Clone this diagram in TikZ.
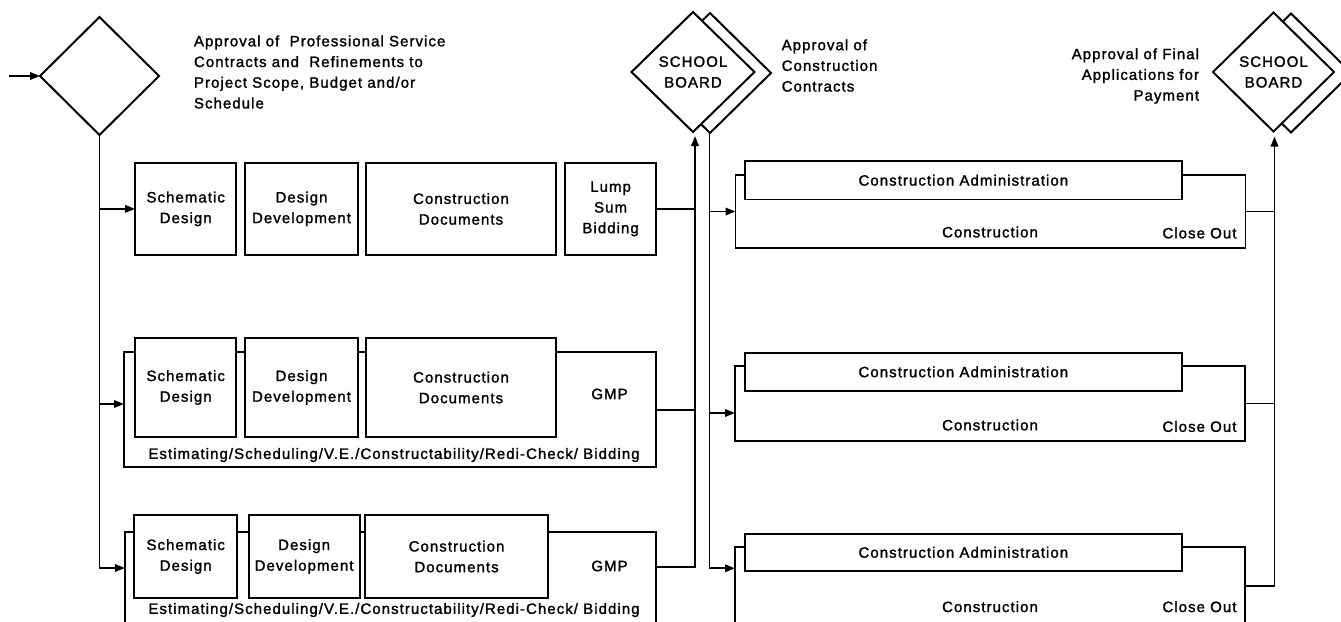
\documentclass[tikz,border=0pt]{standalone}
\usepackage{fontspec}
\setmainfont{Liberation Sans}[LetterSpace=7,FakeBold=1.5]
\usetikzlibrary{shapes.geometric,arrows.meta}

\begin{document}
\begin{tikzpicture}[x=1pt,y=-1pt,
  every node/.style={font=\fontsize{15}{20.7}\selectfont, inner sep=0pt, outer sep=0pt},
  line/.style={line width=1.8pt},
  arr/.style={line width=1.8pt, -{Triangle[length=10pt,width=7.5pt]}},
  box/.style={draw, line width=1.8pt, fill=white, align=center},
  dia/.style={draw, diamond, line width=2pt, fill=white, align=center},
  lbl/.style={align=center}
]
\useasboundingbox (0,0) rectangle (1341,621);
\fill[white] (0,0) rectangle (1341,621);
\clip (0,0) rectangle (1341,621);

% ---------- decision diamonds ----------
\node[dia, minimum width=119pt, minimum height=118pt] (D0) at (99.5,76) {};
\node[dia, minimum width=122pt, minimum height=120pt] (SB1s) at (710,73) {};
\node[dia, minimum width=123pt, minimum height=120pt] (SB1) at (693,72) {SCHOOL\\BOARD};
\node[dia, minimum width=121pt, minimum height=119pt] (SB2s) at (1291,73) {};
\node[dia, minimum width=121pt, minimum height=119pt] (SB2) at (1273.5,72) {SCHOOL\\BOARD};

% ---------- captions ----------
\node[anchor=west, align=left] (t0) at (194,72)
  {Approval of~ Professional Service\\Contracts and~ Refinements to\\Project Scope, Budget and/or\\Schedule};
\node[anchor=west, align=left] (t1) at (781.7,65.5)
  {Approval of\\Construction\\Contracts};
\node[anchor=east, align=right] (t2) at (1199,76)
  {Approval of Final\\Applications for\\Payment};

% ---------- row 1: lump sum ----------
\node[box, minimum width=101.3pt, minimum height=92.3pt] (r1sd) at (185.7,208.9) {Schematic\\Design};
\node[box, minimum width=112.3pt, minimum height=92.3pt] (r1dd) at (301.5,208.9) {Design\\Development};
\node[box, minimum width=190.6pt, minimum height=92.3pt] (r1cd) at (461,208.9) {Construction\\Documents};
\node[box, minimum width=91.3pt, minimum height=92.3pt] (r1ls) at (610.6,208.9) {Lump\\Sum\\Bidding};

% ---------- row 2: GMP ----------
\node[box, minimum width=532.3pt, minimum height=115pt] (r2o) at (390.15,409.8) {};
\node[box, minimum width=101.3pt, minimum height=99pt] (r2sd) at (185.7,387.5) {Schematic\\Design};
\node[box, minimum width=112.3pt, minimum height=99pt] (r2dd) at (301.5,387.5) {Design\\Development};
\node[box, minimum width=190.6pt, minimum height=99pt] (r2cd) at (461,387.5) {Construction\\Documents};
\node[lbl] (r2gmp) at (609.5,394) {GMP};
\node[lbl] (r2est) at (394,455) {Estimating/Scheduling/V.E./Constructability/Redi-Check/ Bidding};

% ---------- row 3: GMP ----------
\node[box, minimum width=531.4pt, minimum height=128.3pt] (r3o) at (390.6,595.85) {};
\node[box, minimum width=102.8pt, minimum height=83pt] (r3sd) at (185.7,556.5) {Schematic\\Design};
\node[box, minimum width=111pt, minimum height=83pt] (r3dd) at (304.1,556.5) {Design\\Development};
\node[box, minimum width=183.3pt, minimum height=83pt] (r3cd) at (456.55,556.5) {Construction\\Documents};
\node[lbl] (r3gmp) at (609.5,566) {GMP};
\node[lbl] (r3est) at (394,610) {Estimating/Scheduling/V.E./Constructability/Redi-Check/ Bidding};

% ---------- construction phases ----------
\node[box, minimum width=510pt, minimum height=73pt] (r1b) at (990.5,211.5) {};
\node[box, minimum width=436.7pt, minimum height=38.5pt] (r1ca) at (963.35,180.25) {Construction Administration};
\node[lbl] (r1c) at (990,232) {Construction};
\node[anchor=east] (r1co) at (1236.5,233) {Close Out};

\node[box, minimum width=510pt, minimum height=75pt] (r2b) at (990,403.5) {};
\node[box, minimum width=436.7pt, minimum height=38.3pt] (r2ca) at (963.35,371.85) {Construction Administration};
\node[lbl] (r2c) at (990,425) {Construction};
\node[anchor=east] (r2co) at (1236.5,426.5) {Close Out};

\node[box, minimum width=510pt, minimum height=112.7pt] (r3b) at (990,603.65) {};
\node[box, minimum width=436.7pt, minimum height=36.7pt] (r3ca) at (963.35,552.35) {Construction Administration};
\node[lbl] (r3c) at (990,606.7) {Construction};
\node[anchor=east] (r3co) at (1236.5,606.7) {Close Out};

% ---------- ports ----------
\coordinate (start) at (9,76);
\coordinate (r2in) at ([yshift=5.8pt]r2o.west);
\coordinate (r3in) at ([yshift=27.85pt]r3o.west);
\coordinate (r3out) at ([yshift=28.85pt]r3o.east);
\coordinate (sb1in) at ([xshift=2pt,yshift=-4pt]SB1.south);
\coordinate (sb1out) at ([xshift=-0.5pt]SB1s.south);
\coordinate (r2bin) at ([yshift=-9.5pt]r2b.west);
\coordinate (r3bin) at ([yshift=35.35pt]r3b.west);
\coordinate (r3bout) at ([yshift=17.95pt]r3b.east);
\coordinate (sb2in) at ([xshift=1pt,yshift=-5pt]SB2.south);

% ---------- connectors ----------
\draw[arr] (start) -- (D0.west);
\draw[arr] (D0.south) |- (r3in);
\draw[arr] (D0.south |- r1sd.west) -- (r1sd.west);
\draw[arr] (D0.south |- r2in) -- (r2in);

\draw[arr] (r3out) -| (sb1in);
\draw[line] (r1ls.east) -- (r1ls.east -| sb1in);
\draw[line] (r2o.east) -- (r2o.east -| sb1in);

\draw[arr] (sb1out) |- (r3bin);
\draw[arr] (sb1out |- r1b.west) -- (r1b.west);
\draw[arr] (sb1out |- r2bin) -- (r2bin);

\draw[arr] (r3bout) -| (sb2in);
\draw[line] (r1b.east) -- (r1b.east -| sb2in);
\draw[line] (r2b.east) -- (r2b.east -| sb2in);
\end{tikzpicture}
\end{document}
